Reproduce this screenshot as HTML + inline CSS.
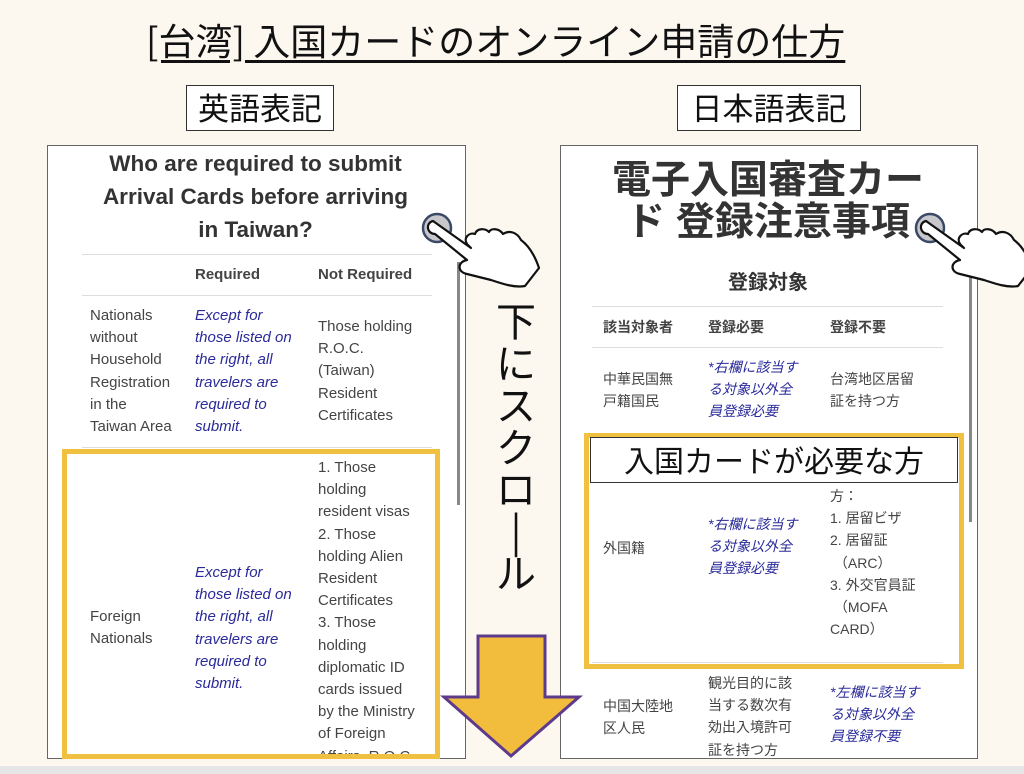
<!DOCTYPE html>
<html><head><meta charset="utf-8"><style>
body{margin:0;width:1024px;height:774px;background:#fcf8f0;position:relative;overflow:hidden;font-family:"Liberation Sans","Noto Sans CJK JP",sans-serif}
.a{position:absolute;white-space:nowrap}
.panel{position:absolute;background:#fff;border:1px solid #666}
.t{position:absolute;font-size:15px;color:#444;line-height:22.2px;white-space:nowrap}
.b{color:#2a2a9a;font-style:italic}
.hr{position:absolute;height:1px;background:#ddd}
.yb{position:absolute;border:5px solid #f0c040;box-sizing:border-box}
.lbl{position:absolute;border:1px solid #333;background:#fff;font-size:31px;line-height:42px;text-align:center;font-family:"Noto Sans CJK JP",sans-serif;color:#111}
.j{font-family:"Liberation Sans","Noto Sans CJK JP",sans-serif}
</style></head><body>
<div class="a" style="left:146px;top:14px;font-size:37px;color:#111;text-decoration:underline;text-underline-offset:5px;font-family:'Noto Sans CJK JP',sans-serif;line-height:50px">[台湾] 入国カードのオンライン申請の仕方</div>
<div class="lbl" style="left:186px;top:85px;width:146px;height:44px">英語表記</div>
<div class="lbl" style="left:677px;top:85px;width:182px;height:44px">日本語表記</div>

<div class="panel" style="left:47px;top:145px;width:417px;height:612px"></div>
<div class="a" style="left:47px;top:147px;width:417px;text-align:center;font-size:22.5px;font-weight:bold;color:#333;line-height:33px;white-space:normal">Who are required to submit<br>Arrival Cards before arriving<br>in Taiwan?</div>
<div class="hr" style="left:82px;top:254px;width:350px"></div>
<div class="t" style="left:195px;top:264px;font-weight:bold">Required</div>
<div class="t" style="left:318px;top:264px;font-weight:bold">Not Required</div>
<div class="hr" style="left:82px;top:295px;width:350px"></div>
<div class="t" style="left:90px;top:305px">Nationals<br>without<br>Household<br>Registration<br>in the<br>Taiwan Area</div>
<div class="t b" style="left:195px;top:305px">Except for<br>those listed on<br>the right, all<br>travelers are<br>required to<br>submit.</div>
<div class="t" style="left:318px;top:316px">Those holding<br>R.O.C.<br>(Taiwan)<br>Resident<br>Certificates</div>
<div class="hr" style="left:82px;top:447px;width:350px"></div>
<div class="t" style="left:318px;top:457px">1. Those<br>holding<br>resident visas<br>2. Those<br>holding Alien<br>Resident<br>Certificates<br>3. Those<br>holding<br>diplomatic ID<br>cards issued<br>by the Ministry<br>of Foreign<br>Affairs, R.O.C.</div>
<div class="t" style="left:90px;top:606px">Foreign<br>Nationals</div>
<div class="t b" style="left:195px;top:562px">Except for<br>those listed on<br>the right, all<br>travelers are<br>required to<br>submit.</div>
<div class="a" style="left:40px;top:759px;width:440px;height:10px;background:#fcf8f0"></div>
<div class="yb" style="left:62px;top:449px;width:378px;height:310px"></div>
<div class="a" style="left:457px;top:262px;width:3px;height:243px;background:#888"></div>

<div class="panel" style="left:560px;top:145px;width:416px;height:612px"></div>
<div class="a j" style="left:560px;top:160px;width:416px;text-align:center;font-size:39px;font-weight:bold;color:#333;line-height:42px;white-space:normal">電子入国審査カー<br>ド 登録注意事項</div>
<div class="a j" style="left:560px;top:266px;width:416px;text-align:center;font-size:20px;font-weight:bold;color:#333">登録対象</div>
<div class="hr" style="left:592px;top:306px;width:351px"></div>
<div class="t j" style="left:603px;top:316px;font-size:14px;font-weight:bold">該当対象者</div>
<div class="t j" style="left:708px;top:316px;font-size:14px;font-weight:bold">登録必要</div>
<div class="t j" style="left:830px;top:316px;font-size:14px;font-weight:bold">登録不要</div>
<div class="hr" style="left:592px;top:347px;width:351px"></div>
<div class="t j" style="left:603px;top:368px;font-size:14px">中華民国無<br>戸籍国民</div>
<div class="t j b" style="left:708px;top:356px;font-size:14px">*右欄に該当す<br>る対象以外全<br>員登録必要</div>
<div class="t j" style="left:830px;top:368px;font-size:14px">台湾地区居留<br>証を持つ方</div>
<div class="t j" style="left:830px;top:485px;font-size:14px">方：<br>1. 居留ビザ<br>2. 居留証<br>&nbsp;（ARC）<br>3. 外交官員証<br>&nbsp;（MOFA<br>CARD）</div>
<div class="t j" style="left:603px;top:537px;font-size:14px">外国籍</div>
<div class="t j b" style="left:708px;top:513px;font-size:14px">*右欄に該当す<br>る対象以外全<br>員登録必要</div>
<div class="hr" style="left:592px;top:662px;width:351px"></div>
<div class="t j" style="left:603px;top:695px;font-size:14px">中国大陸地<br>区人民</div>
<div class="t j" style="left:708px;top:672px;font-size:14px">観光目的に該<br>当する数次有<br>効出入境許可<br>証を持つ方</div>
<div class="t j b" style="left:830px;top:681px;font-size:14px">*左欄に該当す<br>る対象以外全<br>員登録不要</div>
<div class="yb" style="left:584px;top:433px;width:380px;height:236px"></div>
<div class="lbl" style="left:590px;top:437px;width:366px;height:44px;font-size:30px">入国カードが必要な方</div>
<div class="a" style="left:969px;top:262px;width:3px;height:260px;background:#888"></div>

<div class="a" style="left:494px;top:298px;width:44px;font-size:40px;line-height:42px;white-space:normal;font-family:'Noto Sans CJK JP',sans-serif;color:#111;text-align:center">下<br>に<br>ス<br>ク<br>ロ<br>|<br>ル</div>

<svg class="a" style="left:0;top:0" width="1024" height="774">
<polygon points="478,636 545,636 545,697 579,697 511,756 444,697 478,697" fill="#f2bd3c" stroke="#5e3a8c" stroke-width="3"/>
<g id="h" transform="translate(437,228)">
<circle r="14" fill="#c8c8cc" stroke="#3a4a66" stroke-width="2.5"/>
<path d="M-4,-7 C-12,-5 -10,6 -2,6 L30,32 C20,34 20,44 30,46 L54,52 C66,56 78,60 88,58 L102,40 C98,28 92,18 84,12 C80,4 72,2 66,6 C62,0 54,0 52,4 C48,0 40,0 38,6 C32,4 26,10 30,16 L34,20 Z" fill="#fff" stroke="#111" stroke-width="2.2" stroke-linejoin="round"/>
</g>
<use href="#h" transform="translate(493,0)"/>
</svg>
<div class="a" style="left:0;top:766px;width:1024px;height:8px;background:#e6e6e6"></div>
</body></html>
